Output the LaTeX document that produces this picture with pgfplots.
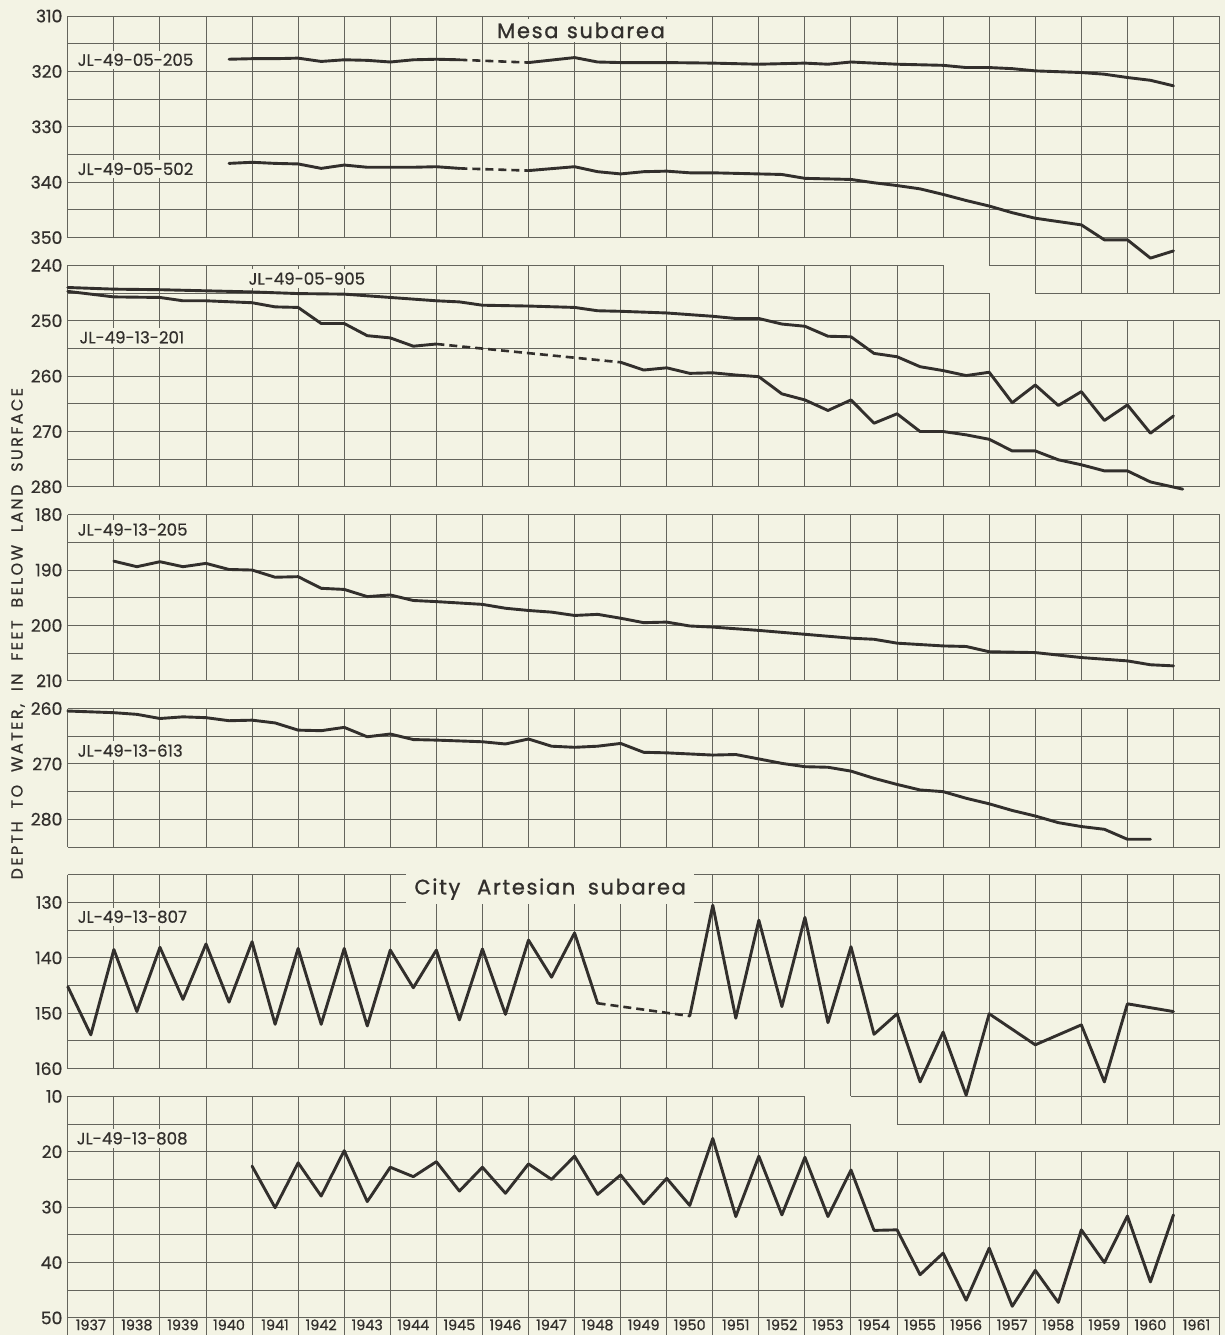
\documentclass[border=0pt]{standalone}
\usepackage{pgfplots}
\pgfplotsset{compat=1.18}
\usepackage{pgfplotstable}
\usepackage{fontspec}
\setmainfont{Poppins}
\definecolor{bg}{RGB}{243,243,228}
\definecolor{gridc}{RGB}{100,100,92}
\definecolor{linec}{RGB}{50,47,44}

% ---------- data (depth to water, feet) ----------
\pgfplotstableread{
x d
1940.5 317.8
1941 317.7
1941.5 317.7
1942 317.6
1942.5 318.2
1943 317.9
1943.5 318.0
1944 318.3
1944.5 317.9
1945 317.8
1945.5 317.9
}\waA
\pgfplotstableread{
x d
1945.5 317.9
1947 318.4
}\waB
\pgfplotstableread{
x d
1947 318.4
1948 317.5
1948.5 318.3
1949 318.4
1950 318.4
1951 318.5
1952 318.7
1953 318.5
1953.5 318.7
1954 318.3
1955 318.7
1956 318.9
1956.5 319.3
1957 319.3
1957.5 319.5
1958 319.9
1959 320.2
1959.5 320.5
1960 321.1
1960.5 321.6
1961 322.6
}\waC

\pgfplotstableread{
x d
1940.5 336.6
1941 336.4
1941.5 336.6
1942 336.7
1942.5 337.5
1943 336.9
1943.5 337.3
1944 337.3
1944.5 337.3
1945 337.2
1945.5 337.5
}\wbA
\pgfplotstableread{
x d
1945.5 337.5
1947 337.9
}\wbB
\pgfplotstableread{
x d
1947 337.9
1948 337.2
1948.5 338.1
1949 338.5
1949.5 338.1
1950 338.0
1950.5 338.3
1951 338.3
1952 338.5
1952.5 338.6
1953 339.3
1954 339.5
1954.5 340.1
1955 340.6
1955.5 341.2
1956 342.2
1956.5 343.3
1957 344.3
1957.5 345.5
1958 346.5
1958.5 347.1
1959 347.7
1959.5 350.4
1960 350.4
1960.5 353.7
1961 352.4
}\wbC

\pgfplotstableread{
x d
1937 244.0
1938 244.3
1939 244.4
1940 244.6
1941 244.8
1942 245.1
1943 245.2
1944 245.8
1945 246.4
1945.5 246.6
1946 247.2
1947 247.35
1948 247.6
1948.5 248.2
1949 248.3
1950 248.6
1951 249.2
1951.5 249.6
1952 249.6
1952.5 250.6
1953 251.0
1953.5 252.8
1954 252.9
1954.5 255.9
1955 256.5
1955.5 258.3
1956 259.0
1956.5 259.9
1957 259.3
1957.5 264.8
1958 261.6
1958.5 265.3
1959 262.8
1959.5 268.0
1960 265.2
1960.5 270.3
1961 267.2
}\wc

\pgfplotstableread{
x d
1937 244.7
1938 245.7
1939 245.8
1939.5 246.4
1940 246.4
1941 246.75
1941.5 247.5
1942 247.6
1942.5 250.5
1943 250.5
1943.5 252.7
1944 253.1
1944.5 254.6
1945 254.2
}\wdA
\pgfplotstableread{
x d
1945 254.2
1949 257.5
}\wdB
\pgfplotstableread{
x d
1949 257.5
1949.5 258.9
1950 258.5
1950.5 259.5
1951 259.4
1951.5 259.8
1952 260.1
1952.5 263.2
1953 264.3
1953.5 266.2
1954 264.3
1954.5 268.5
1955 266.8
1955.5 270.0
1956 270.0
1956.5 270.6
1957 271.4
1957.5 273.5
1958 273.5
1958.5 275.1
1959 276.0
1959.5 277.1
1960 277.1
1960.5 279.1
1961.2 280.4
}\wdC

\pgfplotstableread{
x d
1938 188.4
1938.5 189.4
1939 188.5
1939.5 189.4
1940 188.8
1940.5 189.9
1941 190.0
1941.5 191.3
1942 191.2
1942.5 193.3
1943 193.5
1943.5 194.8
1944 194.5
1944.5 195.5
1945 195.7
1946 196.2
1946.5 196.9
1947 197.3
1947.5 197.6
1948 198.2
1948.5 198.0
1949 198.7
1949.5 199.5
1950 199.4
1950.5 200.1
1951 200.3
1952 200.9
1953 201.6
1954 202.3
1954.5 202.5
1955 203.2
1956 203.7
1956.5 203.8
1957 204.75
1958 204.9
1958.5 205.35
1959 205.8
1960 206.4
1960.5 207.1
1961 207.3
}\we

\pgfplotstableread{
x d
1937 260.45
1938 260.75
1938.5 261.05
1939 261.8
1939.5 261.5
1940 261.65
1940.5 262.2
1941 262.1
1941.5 262.6
1942 263.9
1942.5 264.0
1943 263.4
1943.5 265.1
1944 264.6
1944.5 265.6
1945 265.7
1946 266.0
1946.5 266.4
1947 265.5
1947.5 266.8
1948 267.0
1948.5 266.8
1949 266.3
1949.5 267.9
1950 268.0
1950.5 268.2
1951 268.4
1951.5 268.3
1952 269.1
1952.5 269.9
1953 270.5
1953.5 270.6
1954 271.3
1954.5 272.6
1955 273.7
1955.5 274.7
1956 275.0
1956.5 276.2
1957 277.2
1957.5 278.4
1958 279.4
1958.5 280.6
1959 281.3
1959.5 281.8
1960 283.6
1960.5 283.6
}\wf

\pgfplotstableread{
x d
1937 145.2
1937.5 153.9
1938 138.5
1938.5 149.7
1939 138.1
1939.5 147.5
1940 137.5
1940.5 148.0
1941 137.1
1941.5 152.0
1942 138.3
1942.5 152.0
1943 138.3
1943.5 152.3
1944 138.6
1944.5 145.4
1945 138.6
1945.5 151.2
1946 138.4
1946.5 150.2
1947 136.8
1947.5 143.5
1948 135.5
1948.5 148.2
}\wgA
\pgfplotstableread{
x d
1948.5 148.2
1950.5 150.5
}\wgB
\pgfplotstableread{
x d
1950.5 150.5
1951 130.5
1951.5 150.9
1952 133.2
1952.5 148.8
1953 132.7
1953.5 151.7
1954 138.0
1954.5 153.8
1955 150.1
1955.5 162.4
1956 153.4
1956.5 164.8
1957 150.1
1958 155.7
1959 152.1
1959.5 162.4
1960 148.3
1961 149.7
}\wgC

\pgfplotstableread{
x d
1941 22.6
1941.5 30.1
1942 22.0
1942.5 28.0
1943 19.8
1943.5 29.0
1944 22.8
1944.5 24.5
1945 21.8
1945.5 27.1
1946 22.8
1946.5 27.5
1947 22.2
1947.5 25.0
1948 20.8
1948.5 27.7
1949 24.2
1949.5 29.4
1950 24.8
1950.5 29.7
1951 17.6
1951.5 31.7
1952 20.8
1952.5 31.4
1953 21.0
1953.5 31.7
1954 23.3
1954.5 34.2
1955 34.1
1955.5 42.2
1956 38.3
1956.5 46.8
1957 37.4
1957.5 47.9
1958 41.4
1958.5 47.2
1959 34.1
1959.5 40.0
1960 31.6
1960.5 43.5
1961 31.4
}\wh

% grid rectangle: x0 x1 (years after 1937), v0 v1, v0+5
\newcommand{\gridrect}[5]{%
  \foreach \i in {#1,...,#2} {\draw[gridline] (\i,#3) -- (\i,#4);}
  \foreach \j in {#3,#5,...,#4} {\draw[gridline] (#1,\j) -- (#2,\j);}
}

\begin{document}
\begin{tikzpicture}[gridline/.style={draw=gridc, line width=0.5pt},
  lbl/.style={fill=bg, inner xsep=2pt, inner ysep=1.5pt, text=linec, font=\fontsize{8.3}{10}\selectfont\addfontfeature{FakeBold=0.6}}]
\useasboundingbox (-33.9pt,8pt) rectangle (578.6pt,-659.5pt);
\fill[bg] (-33.9pt,8pt) rectangle (578.6pt,-659.5pt);

\begin{scope}[x=23.035pt, y=-2.77pt]
  % Panel A (310-350 and extension)
  \gridrect{0}{25}{0}{40}{5}
  \gridrect{20}{25}{40}{45}{45}
  \gridrect{21}{25}{45}{50}{50}
  % Panel B (240-280)
  \gridrect{0}{19}{45}{50}{50}
  \gridrect{0}{20}{50}{55}{55}
  \gridrect{0}{25}{55}{85}{60}
  % Panel C (180-210)
  \gridrect{0}{25}{90}{120}{95}
  % Panel D (260-285)
  \gridrect{0}{25}{125}{150}{130}
  % Panel E (125-170)
  \gridrect{0}{25}{155}{190}{160}
  \gridrect{17}{25}{190}{195}{195}
  \gridrect{18}{25}{195}{200}{200}
  % Panel F (10-50)
  \gridrect{0}{16}{195}{200}{200}
  \gridrect{0}{17}{200}{205}{205}
  \gridrect{0}{25}{205}{235}{210}
  % year row
  \foreach \i in {0,...,25} {\draw[gridline] (\i,235) -- (\i,238.3);}

  % labels
  \node[lbl, anchor=west] at (0.12,7.9) {JL-49-05-205};
  \node[lbl, anchor=west] at (0.12,27.6) {JL-49-05-502};
  \node[lbl, anchor=west] at (3.83,47.4) {JL-49-05-905};
  \node[lbl, anchor=west] at (0.16,58.0) {JL-49-13-201};
  \node[lbl, anchor=west] at (0.12,92.7) {JL-49-13-205};
  \node[lbl, anchor=west] at (0.12,132.6) {JL-49-13-613};
  \node[lbl, anchor=west] at (0.12,162.6) {JL-49-13-807};
  \node[lbl, anchor=west] at (0.10,202.6) {JL-49-13-808};
  \node[fill=bg, inner xsep=4pt, inner ysep=2pt, text=linec, font=\fontsize{10.5}{12}\selectfont\addfontfeature{LetterSpace=8,FakeBold=1}] at (11.14,2.6) {Mesa\hspace{0.4em}subarea};
  \node[fill=bg, inner xsep=4pt, inner ysep=2pt, text=linec, font=\fontsize{10.5}{12}\selectfont\addfontfeature{LetterSpace=8,FakeBold=1}] at (10.47,157.6) {City\hspace{0.8em}Artesian\hspace{0.6em}subarea};
  \node[rotate=90, text=linec, font=\fontsize{8}{10}\selectfont\addfontfeature{LetterSpace=15,FakeBold=0.6}] at (-1.08,111.5) {DEPTH\hspace{0.8em}TO\hspace{0.8em}WATER,\hspace{0.8em}IN\hspace{0.8em}FEET\hspace{0.8em}BELOW\hspace{0.8em}LAND\hspace{0.8em}SURFACE};
\end{scope}

\begin{axis}[
  at={(0pt,0pt)}, anchor=north west,
  x=23.035pt, y=2.77pt, y dir=reverse,
  xmin=1937, xmax=1962, ymin=0, ymax=235,
  axis line style={draw=none},
  clip=false,
  major tick length=0pt, minor tick num=0,
  cycle list={{linec,solid}},
  xtick={1937.5,1938.5,1939.5,1940.5,1941.5,1942.5,1943.5,1944.5,1945.5,1946.5,1947.5,1948.5,1949.5,1950.5,1951.5,1952.5,1953.5,1954.5,1955.5,1956.5,1957.5,1958.5,1959.5,1960.5,1961.5},
  xticklabels={1937,1938,1939,1940,1941,1942,1943,1944,1945,1946,1947,1948,1949,1950,1951,1952,1953,1954,1955,1956,1957,1958,1959,1960,1961},
  ytick={0,10,20,30,40,45,55,65,75,85,90,100,110,120,125,135,145,160,170,180,190,195,205,215,225,235},
  yticklabels={310,320,330,340,350,240,250,260,270,280,180,190,200,210,260,270,280,130,140,150,160,10,20,30,40,50},
  xticklabel style={anchor=north, inner sep=0pt, yshift=-0.6pt, text=linec, font=\fontsize{7.2}{8}\selectfont\addfontfeature{FakeBold=0.6}},
  yticklabel style={anchor=east, inner sep=0pt, xshift=-2.5pt, text=linec, font=\fontsize{8.6}{9}\selectfont\addfontfeature{FakeBold=0.6}},
  solidline/.style={draw=linec, solid, line width=1.45pt, line join=round, line cap=round, mark=none},
  dashline/.style={draw=linec, line width=1.3pt, dash pattern=on 4pt off 2.5pt, mark=none},
]
\addplot[solidline] table[x=x, y expr=\thisrow{d}-310] {\waA};
\addplot[dashline] table[x=x, y expr=\thisrow{d}-310] {\waB};
\addplot[solidline] table[x=x, y expr=\thisrow{d}-310] {\waC};
\addplot[solidline] table[x=x, y expr=\thisrow{d}-310] {\wbA};
\addplot[dashline] table[x=x, y expr=\thisrow{d}-310] {\wbB};
\addplot[solidline] table[x=x, y expr=\thisrow{d}-310] {\wbC};
\addplot[solidline] table[x=x, y expr=\thisrow{d}-195] {\wc};
\addplot[solidline] table[x=x, y expr=\thisrow{d}-195] {\wdA};
\addplot[dashline] table[x=x, y expr=\thisrow{d}-195] {\wdB};
\addplot[solidline] table[x=x, y expr=\thisrow{d}-195] {\wdC};
\addplot[solidline] table[x=x, y expr=\thisrow{d}-90] {\we};
\addplot[solidline] table[x=x, y expr=\thisrow{d}-135] {\wf};
\addplot[solidline] table[x=x, y expr=\thisrow{d}+30] {\wgA};
\addplot[dashline] table[x=x, y expr=\thisrow{d}+30] {\wgB};
\addplot[solidline] table[x=x, y expr=\thisrow{d}+30] {\wgC};
\addplot[solidline] table[x=x, y expr=\thisrow{d}+185] {\wh};
\end{axis}
\end{tikzpicture}
\end{document}
